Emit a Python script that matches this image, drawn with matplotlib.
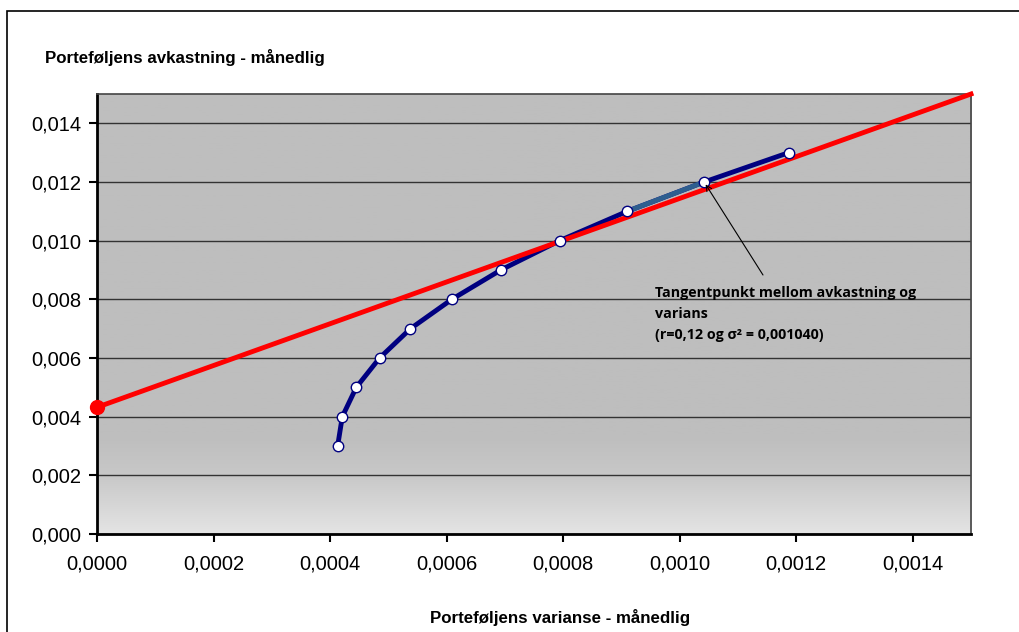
import numpy as np
import matplotlib.pyplot as plt
from matplotlib.colors import LinearSegmentedColormap
from matplotlib.patches import Rectangle

# efficient frontier (variance, return)
varianse = [0.000413, 0.000421, 0.000445, 0.000485, 0.000538, 0.000609,
            0.000693, 0.000794, 0.000910, 0.001042, 0.001187]
avkastning = [0.003, 0.004, 0.005, 0.006, 0.007, 0.008,
              0.009, 0.010, 0.011, 0.012, 0.013]
# capital market line
linje_x = [0.0, 0.0015]
linje_y = [0.00432, 0.0150]
tangent = (0.001042, 0.012)

xticks = [0.0, 0.0002, 0.0004, 0.0006, 0.0008, 0.0010, 0.0012, 0.0014]
yticks = [0.000, 0.002, 0.004, 0.006, 0.008, 0.010, 0.012, 0.014]

plt.rcParams['font.family'] = ['Liberation Sans', 'DejaVu Sans']

fig = plt.figure(figsize=(10.19, 6.32), dpi=100)
fig.patches.append(Rectangle((7 / 1019, -0.1), 1.2, (632 - 11) / 632 + 0.1,
                             transform=fig.transFigure, fill=False,
                             edgecolor='black', linewidth=1.2))
ax = fig.add_axes([97 / 1019, 1 - 534 / 632, (971 - 97) / 1019, (534 - 94) / 632])

# background: flat gray, fading lighter below 0.002
cmap = LinearSegmentedColormap.from_list('bg', [(0, '#e4e4e4'), (0.13, '#c8c8c8'),
                                                (0.22, '#bebebe'), (1, '#bebebe')])
grad = np.linspace(0, 1, 256).reshape(-1, 1)
ax.imshow(grad, cmap=cmap, aspect='auto', origin='lower',
          extent=[0, 1, 0, 1], transform=ax.transAxes, zorder=0)

ax.set_xlim(0, 0.0015)
ax.set_ylim(0, 0.015)
ax.set_xticks(xticks)
ax.set_yticks(yticks)
ax.set_xticklabels([f'{v:.4f}'.replace('.', ',') for v in xticks])
ax.set_yticklabels([f'{v:.3f}'.replace('.', ',') for v in yticks])
ax.tick_params(labelsize=14.5, length=6, width=1.5, direction='out', pad=5)
ax.tick_params(axis='x', pad=9)
ax.grid(axis='y', color='#333333', linewidth=1.0, zorder=1)
for s in ['left', 'bottom']:
    ax.spines[s].set_linewidth(2)
for s in ['top', 'right']:
    ax.spines[s].set_linewidth(1.2)
    ax.spines[s].set_color('#444444')

ax.plot(varianse, avkastning, color='#000080', linewidth=3.5, zorder=3)
ax.plot(varianse[8:10], avkastning[8:10], color='#2f5f8f', linewidth=3.5, zorder=3)
ax.plot(linje_x, linje_y, color='#ff0000', linewidth=3.5, zorder=4, clip_on=False)
ax.plot(linje_x[0], linje_y[0], 'o', color='#ff0000', markersize=10, zorder=5, clip_on=False)
ax.plot(varianse, avkastning, 'o', markerfacecolor='white', markeredgecolor='#000080',
        markersize=7.5, markeredgewidth=1, linestyle='none', zorder=6)

ax.annotate('', xy=tangent, xytext=(0.001143, 0.00883),
            arrowprops=dict(arrowstyle='->', color='black', linewidth=0.8,
                            shrinkA=0, shrinkB=2), zorder=7)
ax.text(0.000958, 0.00845, 'Tangentpunkt mellom avkastning og\nvarians\n(r=0,12 og σ² = 0,001040)',
        fontsize=10.3, fontweight='bold', family=['Open Sans', 'DejaVu Sans'],
        va='top', ha='left', linespacing=1.65, zorder=7)

fig.text(45 / 1019, 1 - 57 / 632, 'Porteføljens avkastning - månedlig',
         fontsize=12.2, fontweight='bold', va='center', ha='left')
fig.text(560 / 1019, 1 - 617 / 632, 'Porteføljens varianse - månedlig',
         fontsize=12.2, fontweight='bold', va='center', ha='center')

fig.savefig('out.png', dpi=100)
